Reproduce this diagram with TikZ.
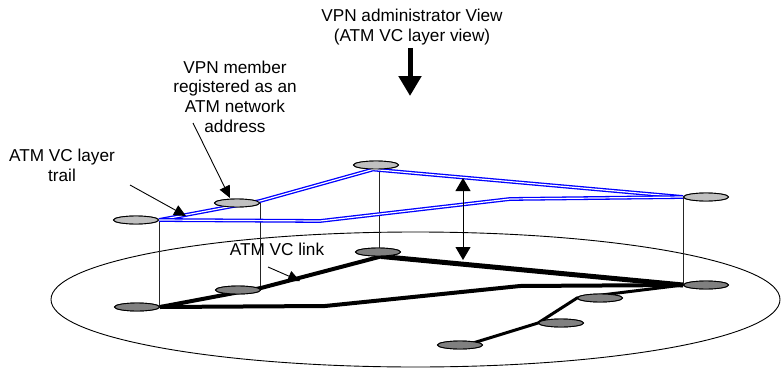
\documentclass[tikz,border=0pt]{standalone}
\usepackage{fontspec}
\setmainfont{Liberation Sans}
\usetikzlibrary{shapes.geometric,arrows.meta}
\definecolor{upperfill}{RGB}{192,192,192}
\definecolor{lowerfill}{RGB}{128,128,128}
\begin{document}
\begin{tikzpicture}[x=1pt,y=-1pt,
  every node/.style={font=\fontsize{17.2}{19.6}\selectfont},
  site/.style={ellipse,draw=black,line width=0.9pt,minimum width=45pt,minimum height=8pt,inner sep=0pt},
  upper/.style={site,fill=upperfill},
  lower/.style={site,fill=lowerfill},
  trail/.style={draw=blue,line width=1.3pt,double=white,double distance=1.2pt},
  drop/.style={draw=black!85,line width=0.9pt},
  vclink/.style={draw=black,line width=4pt},
  note/.style={draw=black,line width=0.9pt,-{Triangle[length=12pt,width=11pt]}},
  lbl/.style={align=center,inner sep=0pt}
]
\useasboundingbox (0,0) rectangle (781,369);

% ATM network plane
\draw[line width=0.9pt] (415.5,299.5) ellipse [x radius=364.5, y radius=67.5];

% routing points of the trails and links
\coordinate (t1) at (320,221);
\coordinate (t2) at (510,199);
\coordinate (k1) at (325,306);
\coordinate (k2) at (520,286);

% ATM VC layer (upper) sites
\node[upper] (U1) at (136,220) {};
\node[upper] (U2) at (237,203) {};
\node[upper] (U3) at (376,165) {};
\node[upper] (U4) at (706,197) {};

% physical (lower) sites
\node[lower] (L1) at (137,307) {};
\node[lower] (L2) at (238,290) {};
\node[lower] (L3) at (378,252) {};
\node[lower] (L4) at (706,285) {};
\node[lower] (L5) at (600,298) {};
\node[lower] (L6) at (561,323) {};
\node[lower] (L7) at (460,345) {};

% vertical projections between the layers
\draw[drop] (U1.east) -- (U1.east |- L1.center);
\draw[drop] (U2.east) -- (U2.east |- L2.center);
\draw[drop] ([xshift=3pt]U3.south) -- ([xshift=3pt]U3.south |- L3.center);
\draw[drop] (U4.west) -- (U4.west |- L4.center);

% ATM VC layer trails
\draw[trail] (U1.east) -- ([yshift=2pt]U2.east) -- ([xshift=-3pt]U3.south) -- (U4.west);
\draw[trail] (U1.east) -- (t1) -- (t2) -- (U4.west);

% ATM VC links
\draw[vclink,line join=round] (L1.east) -- ([yshift=2pt]L2.east) -- ([xshift=3pt]L3.south);
\draw[draw=black,line width=5pt] ([xshift=3pt]L3.south) -- (L4.west);
\draw[vclink] (L1.east) -- (k1) -- (k2) -- (L4.west);
\draw[draw=black,line width=3pt,line join=round] (L4.west) -- (L5.west) -- (L6.west) -- ([yshift=-2pt]L7.center);

% redraw the sites on top of the lines
\foreach \n in {U1,U2,U3,U4}{\node[upper] at (\n) {};}
\foreach \n in {L1,L2,L3,L4,L5,L6,L7}{\node[lower] at (\n) {};}

% labels
\node[lbl] (view) at (412,27) {VPN administrator View\\(ATM VC layer view)};
\node[lbl] (member) at (235,96.5) {VPN member\\registered as an\\ATM network\\address};
\node[lbl] (trailtxt) at (62,165.5) {ATM VC layer\\trail};
\node[lbl] (linktxt) at (277,249) {ATM VC link};

% pointers
\coordinate (va) at (410,48);
\coordinate (vb) at (410,96);
\draw[draw=black,line width=5pt,-{Triangle[length=20pt,width=22pt]}] (va) -- (vb);

\coordinate (ma) at (193,123);
\draw[note] (ma) -- (230,198);

\coordinate (ta) at (130,185);
\draw[note] (ta) -- (186,216);

\coordinate (la) at (268,267);
\draw[note] (la) -- (300,281);

% layer separation
\coordinate (sa) at (463,178);
\coordinate (sb) at (463,260);
\draw[draw=black,line width=0.9pt,{Triangle[length=13pt,width=15pt]}-{Triangle[length=13pt,width=15pt]}] (sa) -- (sb);
\end{tikzpicture}
\end{document}
